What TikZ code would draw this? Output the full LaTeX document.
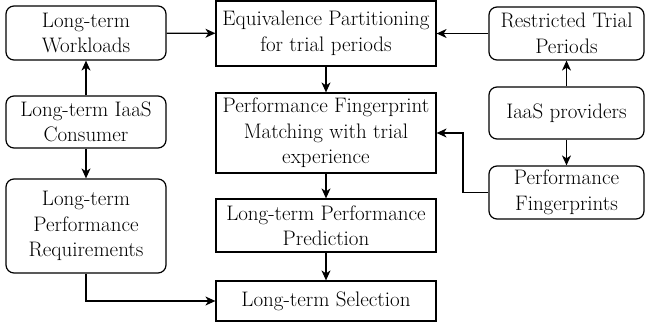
\documentclass[tikz,border=0pt]{standalone}
\usetikzlibrary{arrows.meta}
\begin{document}
\begin{tikzpicture}[x=1pt,y=-1pt,
  box/.style={draw, line width=1.2pt, align=center, inner sep=1pt,
    font=\fontsize{21}{25.5}\selectfont},
  rbox/.style={box, rounded corners=8pt},
  arr/.style={line width=1.2pt, -{Stealth[length=10pt,width=9pt,inset=3pt]}}]
\useasboundingbox (0,0) rectangle (645,323);
% left column
\node[rbox, minimum width=160pt, minimum height=54pt] (wl) at (86,33) {Long-term\\Workloads};
\node[rbox, minimum width=160pt, minimum height=52pt] (con) at (86,122) {Long-term IaaS\\Consumer};
\node[rbox, minimum width=160pt, minimum height=94pt] (req) at (86,226) {Long-term\\Performance\\Requirements};
% middle column
\node[box, minimum width=220pt, minimum height=65pt] (eq) at (326,33.5) {Equivalence Partitioning\\for trial periods};
\node[box, minimum width=220pt, minimum height=80pt] (fm) at (326,133) {Performance Fingerprint\\Matching with trial\\experience};
\node[box, minimum width=220pt, minimum height=53pt] (pp) at (326,225.5) {Long-term Performance\\Prediction};
\node[box, minimum width=220pt, minimum height=40pt] (sel) at (326,301) {Long-term Selection};
% right column
\node[rbox, minimum width=155pt, minimum height=53pt] (rt) at (566.5,33.5) {Restricted Trial\\Periods};
\node[rbox, minimum width=155pt, minimum height=52pt] (iaas) at (566.5,113) {IaaS providers};
\node[rbox, minimum width=155pt, minimum height=53pt] (pf) at (566.5,192.5) {Performance\\Fingerprints};
\coordinate (k1) at (463,192.5);
\coordinate (k2) at (463,133);
\coordinate (k3) at (86,301);
% connectors
\draw[arr] (con) -- (wl);
\draw[arr] (con) -- (req);
\draw[arr] (wl) -- (eq);
\draw[arr] (rt) -- (eq);
\draw[arr] (iaas) -- (rt);
\draw[arr] (iaas) -- (pf);
\draw[arr] (eq) -- (fm);
\draw[arr] (fm) -- (pp);
\draw[arr] (pp) -- (sel);
\draw[arr] (pf.west) -- (k1) -- (k2) -- (fm.east);
\draw[arr] (req.south) -- (k3) -- (sel.west);
\end{tikzpicture}
\end{document}
